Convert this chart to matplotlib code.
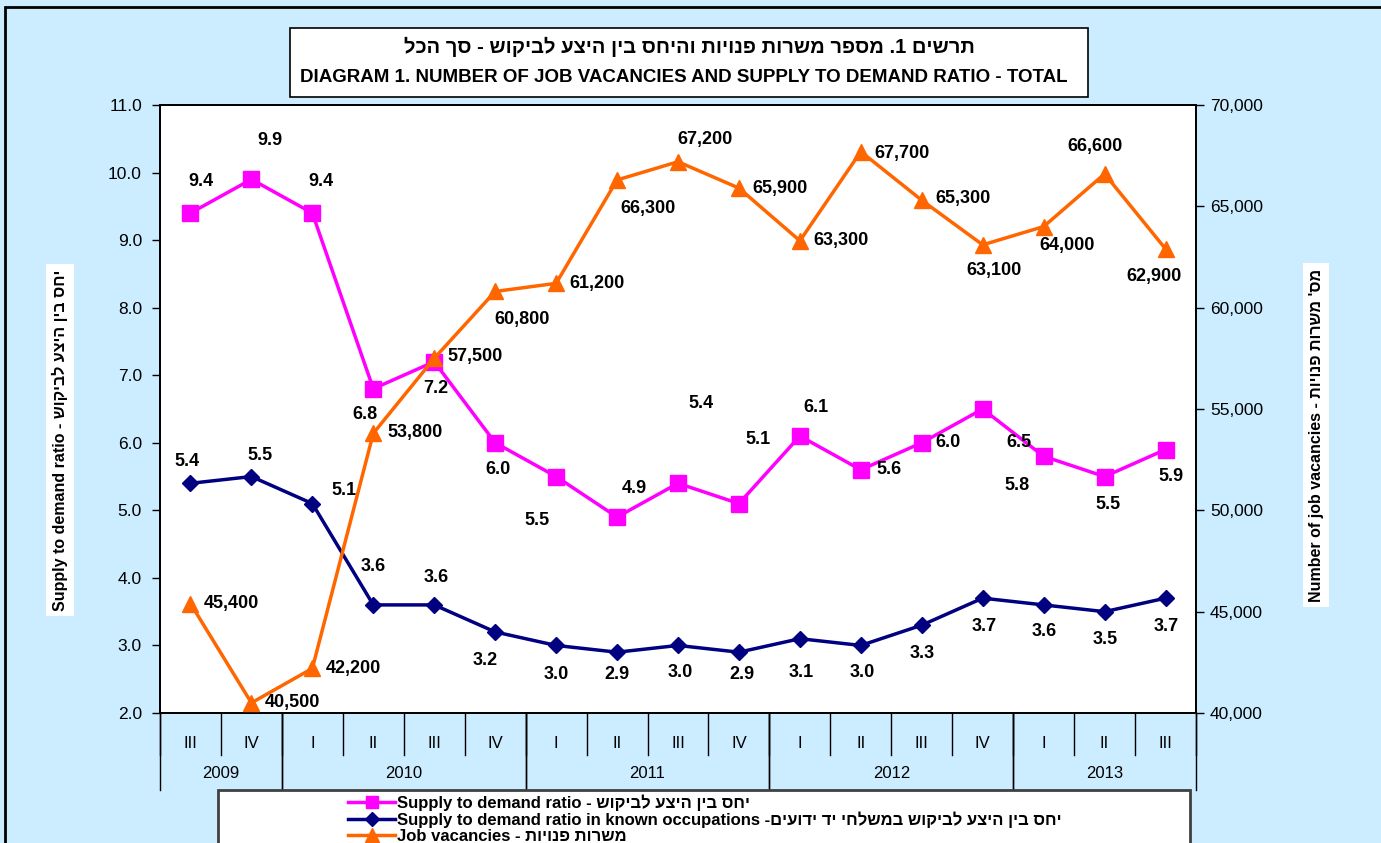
import matplotlib
matplotlib.use('Agg')
import matplotlib.pyplot as plt
from matplotlib.patches import Rectangle
from matplotlib.lines import Line2D

plt.rcParams['font.family'] = ['Liberation Sans', 'DejaVu Sans']

quarters = ['III', 'IV', 'I', 'II', 'III', 'IV', 'I', 'II', 'III', 'IV',
            'I', 'II', 'III', 'IV', 'I', 'II', 'III']
years = ['2009', '2010', '2011', '2012', '2013']
year_span = [(0, 2), (2, 6), (6, 10), (10, 14), (14, 17)]

ratio = [9.4, 9.9, 9.4, 6.8, 7.2, 6.0, 5.5, 4.9, 5.4, 5.1, 6.1, 5.6, 6.0, 6.5, 5.8, 5.5, 5.9]
ratio_known = [5.4, 5.5, 5.1, 3.6, 3.6, 3.2, 3.0, 2.9, 3.0, 2.9, 3.1, 3.0, 3.3, 3.7, 3.6, 3.5, 3.7]
vacancies = [45400, 40500, 42200, 53800, 57500, 60800, 61200, 66300, 67200, 65900,
             63300, 67700, 65300, 63100, 64000, 66600, 62900]

# label offsets in pixels (dx, dy), dy measured downwards
off_ratio = [(10, -32), (19, -39), (9, -32), (-8, 26), (2, 27), (3, 27), (-19, 44), (17, -29),
             (23, -80), (19, -64), (16, -29), (28, 0), (26, 0), (36, 34), (-27, 29), (3, 28), (5, 27)]
off_known = [(-3, -22), (9, -21), (32, -13), (0, -38), (2, -27), (-10, 29), (0, 29), (0, 22),
             (2, 27), (3, 22), (1, 34), (1, 27), (0, 28), (1, 28), (1, 27), (1, 28), (1, 28)]
off_vac = [(41, 0), (41, 0), (41, 0), (42, -1), (41, -2), (27, 28), (41, 0), (31, 29),
           (27, -22), (41, 0), (41, 0), (41, 2), (41, -2), (11, 26), (23, 19), (-10, -27), (-12, 28)]


def rtl(s):
    return s[::-1]


bg = '#CCECFF'
magenta = '#FF00FF'
navy = '#000080'
orange = '#FF6600'

W, H = 1381, 843
fig = plt.figure(figsize=(W / 100, H / 100), dpi=100, facecolor=bg)

# outer frame
fig.patches.append(Rectangle((5 / W, -0.1), 1.2, (H - 7) / H + 0.1, transform=fig.transFigure,
                             fill=False, edgecolor='black', lw=2, zorder=0))

x0, x1, ytop, ybot = 160, 1196, 105, 713
ax = fig.add_axes([x0 / W, (H - ybot) / H, (x1 - x0) / W, (ybot - ytop) / H])
ax.set_facecolor('white')
ax2 = ax.twinx()

xs = list(range(len(quarters)))

ax.plot(xs, ratio, color=magenta, lw=2.5, marker='s', ms=11, zorder=3, clip_on=False)
ax.plot(xs, ratio_known, color=navy, lw=2.5, marker='D', ms=8, zorder=3, clip_on=False)
ax2.plot(xs, vacancies, color=orange, lw=2.5, marker='^', ms=12, zorder=3, clip_on=False)

ax.set_ylim(2, 11)
ax2.set_ylim(40000, 70000)
ax.set_xlim(-0.5, len(quarters) - 0.5)
ax.set_yticks([2 + i for i in range(10)])
ax.set_yticklabels(['%.1f' % (2 + i) for i in range(10)], fontsize=12.5)
ax2.set_yticks([40000 + 5000 * i for i in range(7)])
ax2.set_yticklabels(['{:,}'.format(40000 + 5000 * i) for i in range(7)], fontsize=12.5)
ax.tick_params(axis='y', length=6, width=1, pad=7)
ax2.tick_params(axis='y', length=6, width=1, pad=4)
for a in (ax, ax2):
    for s in a.spines.values():
        s.set_linewidth(1.3)

lab = dict(textcoords='offset pixels', ha='center', va='center', fontsize=13, fontweight='bold')
for i in xs:
    ax.annotate('%.1f' % ratio[i], (i, ratio[i]), xytext=(off_ratio[i][0], -off_ratio[i][1]), **lab)
    ax.annotate('%.1f' % ratio_known[i], (i, ratio_known[i]),
                xytext=(off_known[i][0], -off_known[i][1]), **lab)
    ax2.annotate('{:,}'.format(vacancies[i]), (i, vacancies[i]),
                 xytext=(off_vac[i][0], -off_vac[i][1]), **lab)

# category axis
ax.set_xticks([])
h = ybot - ytop
tr = ax.get_xaxis_transform()
for i, q in enumerate(quarters):
    ax.text(i, -30 / h, q, transform=tr, ha='center', va='center', fontsize=12)
for k in range(len(quarters) + 1):
    ax.plot([k - 0.5, k - 0.5], [0, -42 / h], transform=tr, color='black', lw=1, clip_on=False)
for (a, b), y in zip(year_span, years):
    ax.text((a + b - 1) / 2, -60 / h, y, transform=tr, ha='center', va='center', fontsize=12)
    for k in (a, b):
        ax.plot([k - 0.5, k - 0.5], [0, -77 / h], transform=tr, color='black', lw=1, clip_on=False)

# axis titles
fig.text(60 / W, 1 - 440 / H, 'Supply to demand ratio - ' + rtl('יחס בין היצע לביקוש'),
         rotation=90, ha='center', va='center', fontsize=11.5, fontweight='bold',
         bbox=dict(facecolor='white', edgecolor='none', pad=4))
fig.text(1316 / W, 1 - 435 / H, 'Number of job vacancies - ' + rtl("מס' משרות פנויות"),
         rotation=90, ha='center', va='center', fontsize=11.5, fontweight='bold',
         bbox=dict(facecolor='white', edgecolor='none', pad=4))

# title box
fig.patches.append(Rectangle((290 / W, 1 - 97 / H), 798 / W, 69 / H, transform=fig.transFigure,
                             facecolor='white', edgecolor='black', lw=1.2))
fig.text(689 / W, 1 - 47 / H, rtl('תרשים 1. מספר משרות פנויות והיחס בין היצע לביקוש - סך הכל'),
         ha='center', va='center', fontsize=14.5, fontweight='bold')
fig.text(684 / W, 1 - 77 / H, 'DIAGRAM 1. NUMBER OF JOB VACANCIES AND SUPPLY TO DEMAND RATIO - TOTAL',
         ha='center', va='center', fontsize=13.5, fontweight='bold')

# legend box
fig.patches.append(Rectangle((218 / W, -0.05), 972 / W, (H - 790) / H + 0.05, transform=fig.transFigure,
                             facecolor='white', edgecolor='#404040', lw=2))
handles = [Line2D([], [], color=magenta, lw=2.5, marker='s', ms=9),
           Line2D([], [], color=navy, lw=2.5, marker='D', ms=7),
           Line2D([], [], color=orange, lw=2.5, marker='^', ms=10)]
labels = ['Supply to demand ratio - ' + rtl('יחס בין היצע לביקוש'),
          'Supply to demand ratio in known occupations -' + rtl('יחס בין היצע לביקוש במשלחי יד ידועים'),
          'Job vacancies - ' + rtl('משרות פנויות')]
leg = fig.legend(handles, labels, loc='upper left', bbox_to_anchor=(340 / W, 1 - 786 / H),
                 frameon=False, handlelength=2.8, handletextpad=0.1, labelspacing=0.05,
                 borderpad=0.0, prop=dict(weight='bold', size=12))

fig.savefig('out.png', dpi=100, facecolor=bg)
